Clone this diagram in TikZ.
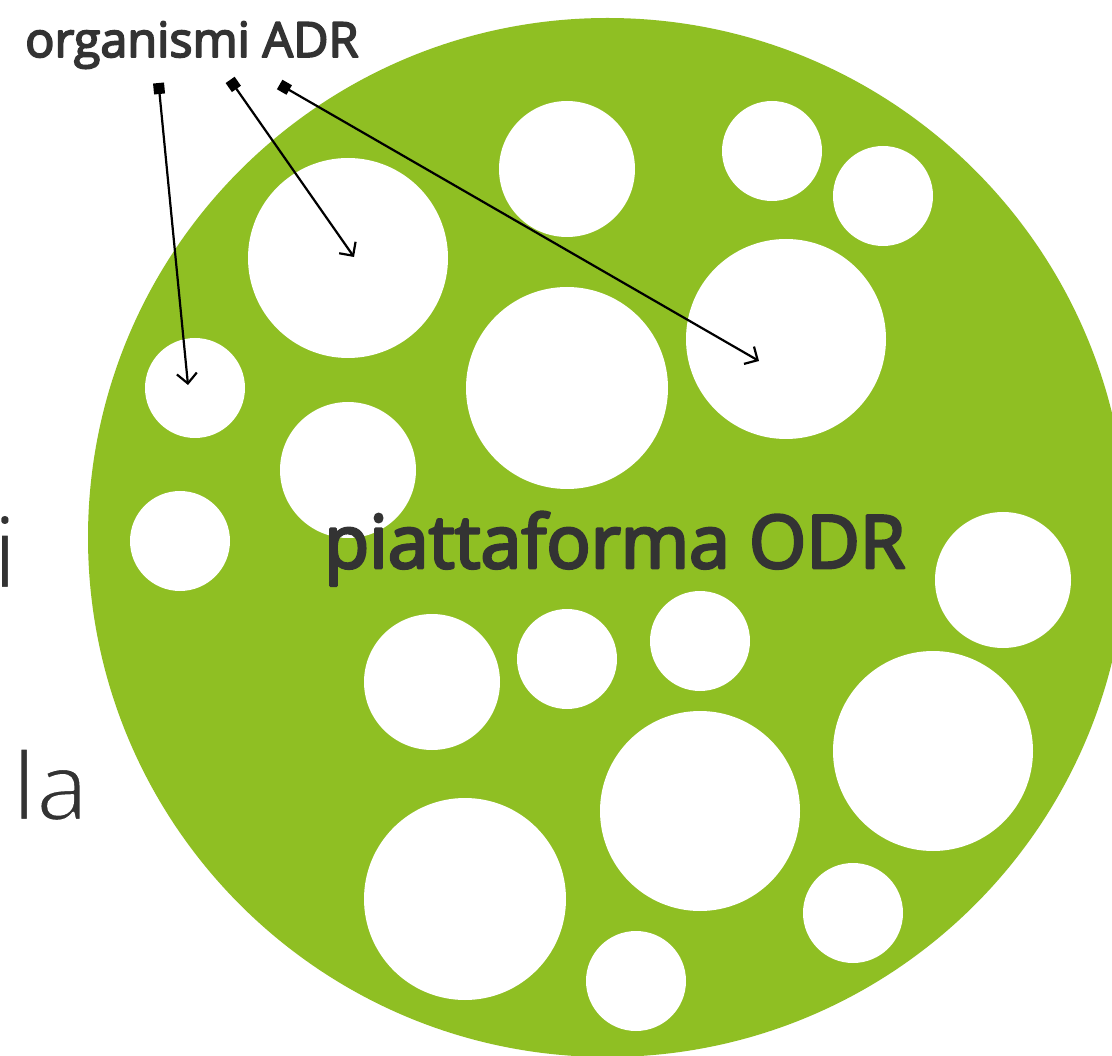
\documentclass[tikz,border=0pt]{standalone}
\usepackage{fontspec}
\setmainfont{Open Sans}
\usetikzlibrary{arrows.meta}
\definecolor{odrgreen}{RGB}{143,191,35}
\definecolor{txt}{RGB}{51,51,51}
\newcommand\thickertext[2]{\special{pdf:literal direct 0.2 0.2 0.2 RG #1 w 1 j 2 Tr}#2\special{pdf:literal direct 0 Tr}}
\newcommand\thinnertext[2]{\special{pdf:literal direct 1 1 1 RG #1 w 1 j 2 Tr}#2\special{pdf:literal direct 0 Tr 0 0 0 RG}}
\tikzset{
  hole/.style={circle, fill=white, inner sep=0pt, minimum size=#1},
  ptr/.style={line width=2.2pt, black, {Square[length=11pt,width=11pt]}-{Straight Barb[length=10pt,width=20pt]}, shorten <=-5pt},
  lbl/.style={inner sep=0pt, text=txt}
}
\begin{document}
\begin{tikzpicture}[x=1pt,y=-1pt]
\useasboundingbox (0,0) rectangle (1112,1056);
\clip (0,0) rectangle (1112,1056);
\fill[white] (0,0) rectangle (1112,1056);
\node[circle, fill=odrgreen, inner sep=0pt, minimum size=1039pt] (odr) at (607.5,537.5) {};
\node[hole=136pt] (c1) at (567,169) {};
\node[hole=100pt] (c2) at (772,151) {};
\node[hole=100pt] (c3) at (883,196) {};
\node[hole=200pt] (c4) at (348,258) {};
\node[hole=200pt] (c5) at (786,339) {};
\node[hole=202pt] (c6) at (567,388) {};
\node[hole=100pt] (c7) at (195,388) {};
\node[hole=136pt] (c8) at (348,470) {};
\node[hole=100pt] (c9) at (180,541) {};
\node[hole=136pt] (c10) at (1003,580) {};
\node[hole=136pt] (c11) at (432,682) {};
\node[hole=100pt] (c12) at (567,659) {};
\node[hole=100pt] (c13) at (700,641) {};
\node[hole=200pt] (c14) at (933,751) {};
\node[hole=200pt] (c15) at (700,811) {};
\node[hole=202pt] (c16) at (465,899) {};
\node[hole=100pt] (c17) at (853,913) {};
\node[hole=100pt] (c18) at (636,981) {};
\node[lbl, anchor=base west, font=\fontsize{73.5}{84}\selectfont] (odrlabel) at (324,568) {\thickertext{2.8}{piattaforma ODR}};
\node[lbl, anchor=base west, font=\fontsize{48.5}{58}\selectfont] (adr) at (25,57) {\thickertext{1.8}{organismi ADR}};
\node[lbl, anchor=base west, font=\fontsize{100}{120}\selectfont] (frag1) at (-8,588) {\thinnertext{2.2}{i}};
\node[lbl, anchor=base west, font=\fontsize{94}{110}\selectfont] (frag2) at (12,820) {\thinnertext{2.2}{la}};
\coordinate (s1) at (159,88);
\coordinate (s2) at (233,84);
\coordinate (s3) at (284,87);
\coordinate (t1) at (188,385);
\coordinate (t2) at (354,257);
\coordinate (t3) at (759,361);
\draw[ptr] (s1) -- (t1);
\draw[ptr] (s2) -- (t2);
\draw[ptr] (s3) -- (t3);
\end{tikzpicture}
\end{document}
